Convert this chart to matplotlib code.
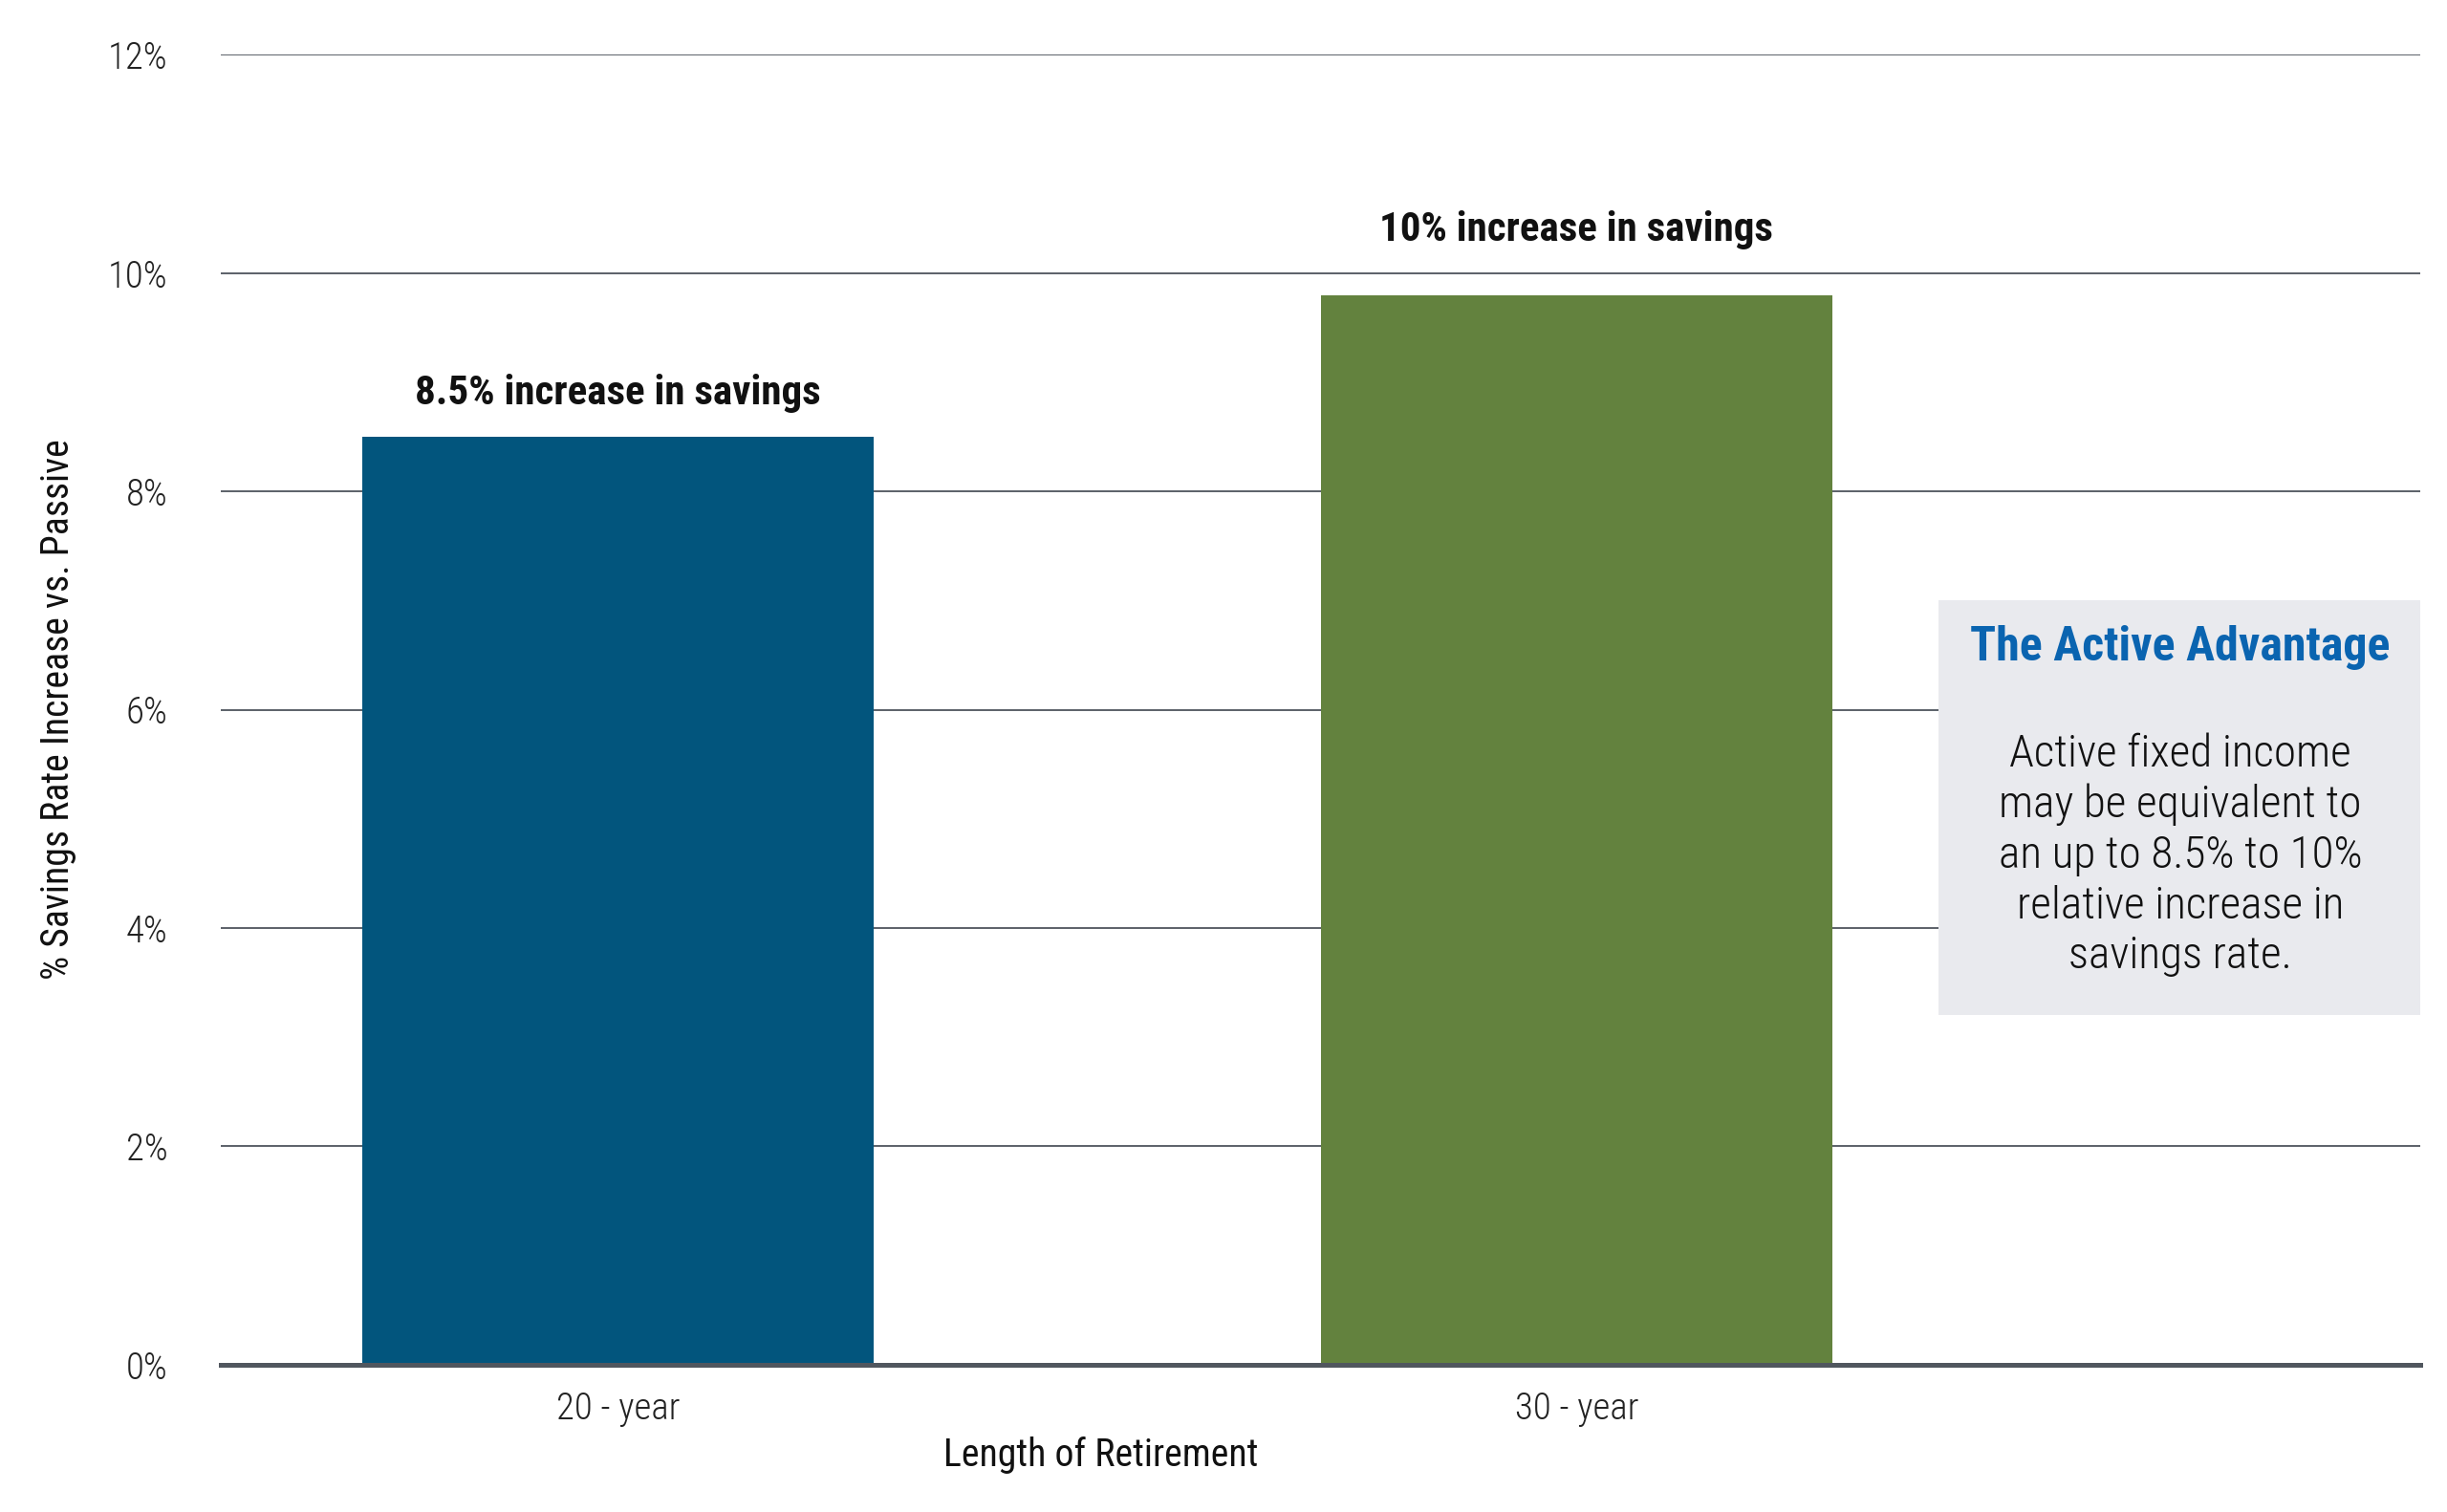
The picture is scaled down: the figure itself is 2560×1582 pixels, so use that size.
import matplotlib
matplotlib.use("Agg")
import matplotlib.pyplot as plt
from matplotlib import font_manager
from matplotlib.patches import Rectangle

# data
categories = ["20 - year", "30 - year"]
values = [8.5, 9.8]
bar_labels = ["8.5% increase in savings", "10% increase in savings"]
bar_colors = ["#02557d", "#63823e"]
y_ticks = [0, 2, 4, 6, 8, 10, 12]
box_title = "The Active Advantage"
box_lines = ["Active fixed income", "may be equivalent to",
             "an up to 8.5% to 10%", "relative increase in", "savings rate."]

# pick a narrow family if one is there
names = set(f.name for f in font_manager.fontManager.ttflist)
family = "Roboto"
for cand in ["Roboto Condensed", "Liberation Sans Narrow", "Roboto"]:
    if cand in names:
        family = cand
        break
plt.rcParams["font.family"] = [family, "DejaVu Sans"]

fig = plt.figure(figsize=(12.8, 7.91), dpi=200)
ax = fig.add_axes([0.0904, 0.0975, 0.8986, 0.8662])

x = list(range(len(categories)))
ax.bar(x, values, width=0.533, color=bar_colors, zorder=3)

# the second label sits a bit higher above its bar
pads = [9, 17]
for xi, v, lab, p in zip(x, values, bar_labels, pads):
    ax.annotate(lab, (xi, v), xytext=(0, p), textcoords="offset points",
                ha="center", va="bottom", fontsize=15.5, fontweight="heavy",
                color="#111111", zorder=4)

ax.set_xlim(-0.414, 1.880)
ax.set_ylim(0, 12)
ax.set_yticks(y_ticks)
ax.set_yticklabels([f"{t}%" for t in y_ticks])
ax.set_xticks(x)
ax.set_xticklabels(categories)
ax.tick_params(axis="both", length=0, labelsize=14, colors="#222222")
ax.tick_params(axis="y", pad=20)
ax.tick_params(axis="x", pad=10)
for lbl in ax.get_yticklabels() + ax.get_xticklabels():
    lbl.set_fontweight("light")

ax.grid(axis="y", color="#5b6068", linewidth=0.7, zorder=1)
ax.set_axisbelow(True)
for s in ["top", "right", "left"]:
    ax.spines[s].set_visible(False)
ax.spines["bottom"].set_color("#50565e")
ax.spines["bottom"].set_linewidth(1.8)
ax.spines["bottom"].set_zorder(5)

ax.set_ylabel("% Savings Rate Increase vs. Passive", fontsize=14.3,
              color="#111111")
ax.yaxis.set_label_coords(-0.066, 0.5)
ax.set_xlabel("Length of Retirement", fontsize=14.3, color="#111111")
ax.xaxis.set_label_coords(0.4, -0.055)

# side box
ax.add_patch(Rectangle((1.378, 3.20), 1.880 - 1.378, 3.80, facecolor="#e9eaee",
                       edgecolor="none", zorder=4, clip_on=False))
ax.text(1.630, 6.57, box_title, ha="center", va="center", fontsize=18,
        fontweight="heavy", color="#0a64b0", zorder=5)
ax.text(1.630, 4.67, "\n".join(box_lines), ha="center", va="center",
        fontsize=17, fontweight="light", color="#111111", linespacing=1.25,
        zorder=5)

fig.savefig("out.png", dpi=200)
